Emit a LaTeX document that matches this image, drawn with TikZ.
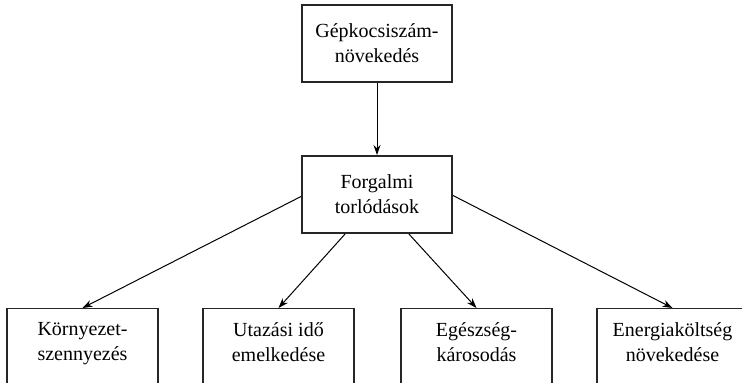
\documentclass[tikz,border=0pt]{standalone}
\usepackage{fontspec}
\setmainfont{Liberation Serif}
\usetikzlibrary{arrows.meta,calc}
\begin{document}
\begin{tikzpicture}[x=1pt,y=-1pt,
  topbox/.style={draw=black!85,line width=2pt,minimum width=150pt,minimum height=77pt,inner sep=0pt,align=center,font=\fontsize{20}{25}\selectfont},
  lowbox/.style={draw=black!85,line width=1.3pt,minimum width=151pt,minimum height=110pt,anchor=north,inner sep=0pt},
  lowtext/.style={anchor=north,align=center,inner sep=0pt,font=\fontsize{20}{25}\selectfont},
  conn/.style={line width=1pt,-{Stealth[length=10pt,width=7pt]}}]
\useasboundingbox (0,0) rectangle (742,383);
\clip (0,0) rectangle (742,383);
\node[topbox] (g) at (377,43) {Gépkocsiszám-\\növekedés};
\node[topbox] (f) at (377,194.5) {Forgalmi\\torlódások};
\node[lowbox] (a) at (82.5,308) {};
\node[lowbox] (b) at (278.5,308) {};
\node[lowbox] (c) at (476.5,308) {};
\node[lowbox] (d) at (672.5,308) {};
\node[lowtext] (ta) at (82.5,322) {Környezet-\\szennyezés};
\node[lowtext] (tb) at (278.5,322) {Utazási idő\\emelkedése};
\node[lowtext] (tc) at (476.5,322) {Egészség-\\károsodás};
\node[lowtext] (td) at (672.5,322) {Energiaköltség\\növekedése};
\draw[conn] (g.south) -- (f.north);
\draw[conn] ($(f.west)+(0,2)$) -- (a.north);
\draw[conn] ($(f.south west)!0.29!(f.south east)$) -- (b.north);
\draw[conn] ($(f.south west)!0.71!(f.south east)$) -- (c.north);
\draw[conn] ($(f.east)+(0,1)$) -- (d.north);
\end{tikzpicture}
\end{document}
